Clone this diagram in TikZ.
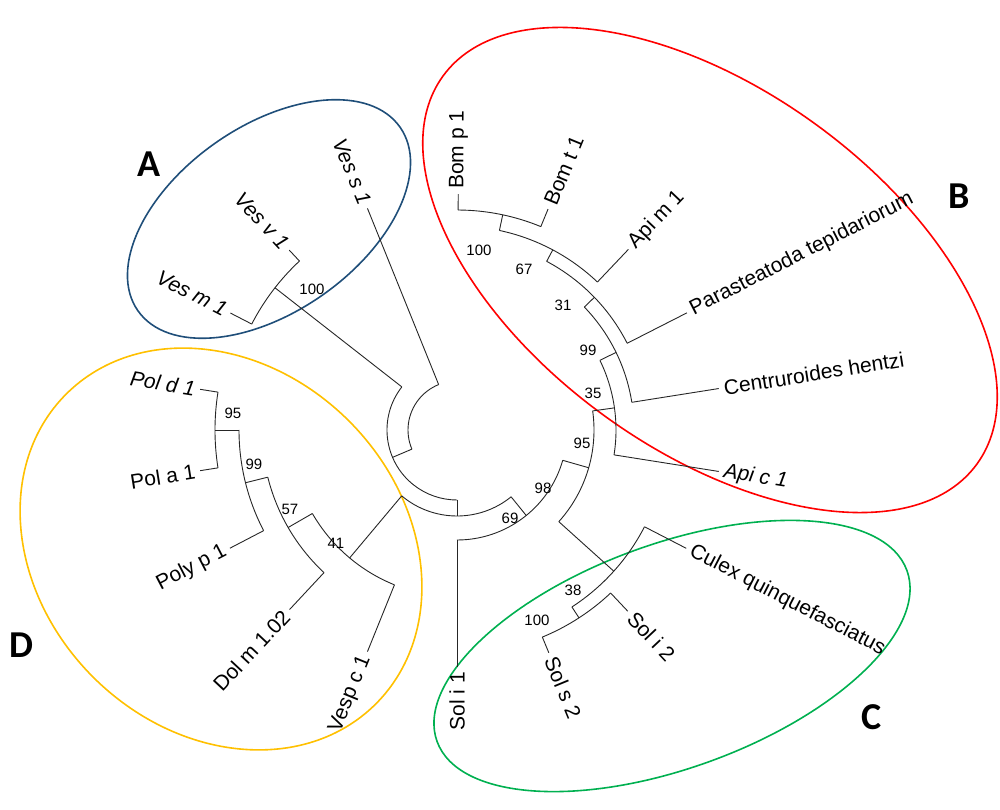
\documentclass[tikz,border=0pt]{standalone}
\usepackage{fontspec}
\setmainfont{Liberation Sans}
\newfontfamily\cladefont{Carlito}
\tikzset{
branch/.style={draw=black!85, line width=0.9pt},
leaf/.style={font=\fontsize{21}{21}\selectfont, inner xsep=5pt, inner ysep=1pt},
tipR/.style={leaf, anchor=west, rotate=#1},
tipL/.style={leaf, anchor=east, rotate=#1-180},
boot/.style={font=\fontsize{15}{15}\selectfont, inner sep=0pt},
cladename/.style={font=\cladefont\bfseries\fontsize{38}{38}\selectfont},
group/.style={line width=1.6pt},
}
\definecolor{groupA}{RGB}{31,78,121}
\definecolor{groupB}{RGB}{255,0,0}
\definecolor{groupC}{RGB}{0,176,80}
\definecolor{groupD}{RGB}{255,192,0}
% name, radius, first child angle, last child angle, own angle
\newcommand{\arcnode}[5]{%
  \coordinate (#1) at (#5:#2);
  \coordinate (#1-a) at (#3:#2);
  \coordinate (#1-b) at (#4:#2);
  \draw[branch] (#1-a) arc[start angle=#3, end angle=#4, radius=#2];}

\begin{document}
\begin{tikzpicture}[x=1pt, y=1pt]
        \useasboundingbox (-457,-380) rectangle (543,430);

        % groups
        \draw[group, groupA, shift={(-188,211)}, rotate=35] (0,0) ellipse [x radius=160pt, y radius=93pt];
        \draw[group, groupB, shift={(253,160)}, rotate=-36] (0,0) ellipse [x radius=330pt, y radius=180pt];
        \draw[group, groupC, shift={(215,-226)}, rotate=20] (0,0) ellipse [x radius=250pt, y radius=112pt];
        \draw[group, groupD, shift={(-236,-119)}, rotate=-45] (0,0) ellipse [x radius=219pt, y radius=181pt];

        \node[cladename] (lA) at (-308,266) {A};
        \node[cladename] (lB) at (502,234) {B};
        \node[cladename] (lC) at (415,-287) {C};
        \node[cladename] (lD) at (-436,-215) {D};

        % internal nodes
        \arcnode{root}{49pt}{112}{203}{157}
        \arcnode{nX}{70pt}{142}{270}{203}
        \arcnode{nA100}{231pt}{133}{152.7}{142}
        \arcnode{nY}{86pt}{230}{309}{270}
        \arcnode{nD41}{167pt}{210}{248}{230}
        \arcnode{nD57}{195pt}{194}{227}{210}
        \arcnode{nD99}{218pt}{180}{207.5}{194}
        \arcnode{nD95}{242pt}{171}{189}{180}
        \arcnode{nW69}{110pt}{270}{344}{309}
        \arcnode{nN98}{137pt}{-42}{8}{344}
        \arcnode{nC38}{211pt}{303}{332.7}{318}
        \arcnode{nC100}{224pt}{292.4}{313.3}{303}
        \arcnode{nB95}{159pt}{-9}{26}{8}
        \arcnode{nB99}{177pt}{9}{44}{26}
        \arcnode{nB31}{191pt}{27}{62}{44}
        \arcnode{nB67}{204pt}{46.5}{78}{62}
        \arcnode{nB100}{220pt}{67.6}{89.7}{78}

        % leaves
        \node[tipL=112, font=\itshape\fontsize{21}{21}\selectfont] (vess1) at (112:239pt) {Ves s 1};
        \node[tipL=133, font=\itshape\fontsize{21}{21}\selectfont] (vesv1) at (133:246pt) {Ves v 1};
        \node[tipL=152.7, font=\itshape\fontsize{21}{21}\selectfont] (vesm1) at (152.7:255pt) {Ves m 1};
        \node[tipL=171, font=\itshape\fontsize{21}{21}\selectfont] (pold1) at (171:260pt) {Pol d 1};
        \node[tipL=189] (pola1) at (189:260pt) {Pol a 1};
        \node[tipL=207.5] (polyp1) at (207.5:256pt) {Poly p 1};
        \node[tipL=227] (dolm) at (227:245.5pt) {Dol m 1.02};
        \node[tipL=248] (vespc1) at (248:239pt) {Vesp c 1};
        \node[tipL=270] (soli1) at (270:237pt) {Sol i 1};
        \node[tipR=292.4] (sols2) at (292.4:241pt) {Sol s 2};
        \node[tipR=313.3] (soli2) at (313.3:249pt) {Sol i 2};
        \node[tipR=332.7] (culex) at (332.7:258pt) {Culex quinquefasciatus};
        \node[tipR=-9, font=\itshape\fontsize{21}{21}\selectfont] (apic1) at (-9:265pt) {Api c 1};
        \node[tipR=9] (centr) at (9:265pt) {Centruroides hentzi};
        \node[tipR=27] (paras) at (27:258pt) {Parasteatoda tepidariorum};
        \node[tipR=46.5] (apim1) at (46.5:249pt) {Api m 1};
        \node[tipR=67.6] (bomt1) at (67.6:239pt) {Bom t 1};
        \node[tipR=89.7] (bomp1) at (89.7:236pt) {Bom p 1};

        % branches
        \draw[branch] (root-a) -- (vess1.east);
        \draw[branch] (root-b) -- (nX);
        \draw[branch] (nX-a) -- (nA100);
        \draw[branch] (nX-b) -- (nY);
        \draw[branch] (nA100-a) -- (vesv1.east);
        \draw[branch] (nA100-b) -- (vesm1.east);
        \draw[branch] (nY-a) -- (nD41);
        \draw[branch] (nY-b) -- (nW69);
        \draw[branch] (nD41-a) -- (nD57);
        \draw[branch] (nD41-b) -- (vespc1.east);
        \draw[branch] (nD57-a) -- (nD99);
        \draw[branch] (nD57-b) -- (dolm.east);
        \draw[branch] (nD99-a) -- (nD95);
        \draw[branch] (nD99-b) -- (polyp1.east);
        \draw[branch] (nD95-a) -- (pold1.east);
        \draw[branch] (nD95-b) -- (pola1.east);
        \draw[branch] (nW69-a) -- (soli1.east);
        \draw[branch] (nW69-b) -- (nN98);
        \draw[branch] (nN98-a) -- (nC38);
        \draw[branch] (nN98-b) -- (nB95);
        \draw[branch] (nC38-a) -- (nC100);
        \draw[branch] (nC38-b) -- (culex.west);
        \draw[branch] (nC100-a) -- (sols2.west);
        \draw[branch] (nC100-b) -- (soli2.west);
        \draw[branch] (nB95-a) -- (apic1.west);
        \draw[branch] (nB95-b) -- (nB99);
        \draw[branch] (nB99-a) -- (centr.west);
        \draw[branch] (nB99-b) -- (nB31);
        \draw[branch] (nB31-a) -- (paras.west);
        \draw[branch] (nB31-b) -- (nB67);
        \draw[branch] (nB67-a) -- (apim1.west);
        \draw[branch] (nB67-b) -- (nB100);
        \draw[branch] (nB100-a) -- (bomt1.west);
        \draw[branch] (nB100-b) -- (bomp1.west);

        % bootstrap values
        \node[boot] (bA100) at (-145,141) {100};
        \node[boot] (bD95) at (-224,17) {95};
        \node[boot] (bD99) at (-203,-34) {99};
        \node[boot] (bD57) at (-167,-79) {57};
        \node[boot] (bD41) at (-121,-113) {41};
        \node[boot] (bB100) at (22,180) {100};
        \node[boot] (bB67) at (67,161) {67};
        \node[boot] (bB31) at (106,125) {31};
        \node[boot] (bB99) at (131,80) {99};
        \node[boot] (bB35) at (136,37) {35};
        \node[boot] (bB95) at (125,-13) {95};
        \node[boot] (bN98) at (86,-58) {98};
        \node[boot] (bW69) at (53,-88) {69};
        \node[boot] (bC38) at (116,-160) {38};
        \node[boot] (bC100) at (80,-190) {100};
    \end{tikzpicture}
\end{document}
